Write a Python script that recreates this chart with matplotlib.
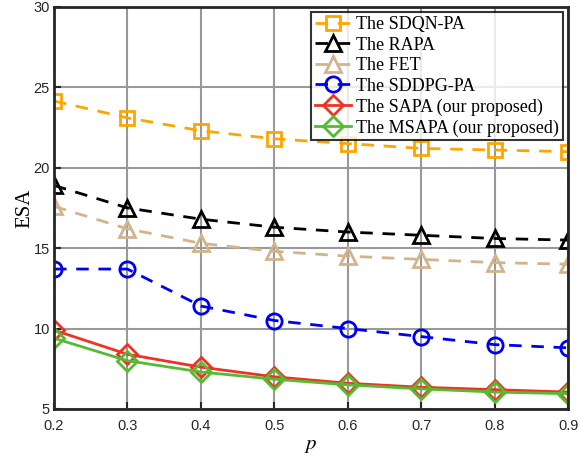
import matplotlib
matplotlib.use("Agg")
import matplotlib.pyplot as plt

p = [0.2, 0.3, 0.4, 0.5, 0.6, 0.7, 0.8, 0.9]
sdqn = [24.15, 23.1, 22.3, 21.8, 21.5, 21.2, 21.1, 21.0]
rapa = [18.9, 17.5, 16.8, 16.3, 16.0, 15.8, 15.6, 15.5]
fet = [17.6, 16.2, 15.3, 14.8, 14.5, 14.3, 14.1, 14.0]
sddpg = [13.7, 13.7, 11.4, 10.5, 10.0, 9.5, 9.0, 8.8]
sapa = [9.9, 8.4, 7.6, 7.0, 6.6, 6.35, 6.2, 6.05]
msapa = [9.4, 8.0, 7.3, 6.85, 6.5, 6.25, 6.05, 5.95]

labels = ["The SDQN-PA", "The RAPA", "The FET", "The SDDPG-PA",
          "The SAPA (our proposed)", "The MSAPA (our proposed)"]

plt.rcParams["mathtext.fontset"] = "stix"
fig = plt.figure(figsize=(5.87, 4.59), dpi=100)
ax = fig.add_axes([0.092, 0.109, 0.876, 0.876])

mew = 2
dash = (0, (4.5, 3.5))
ax.plot(p, sdqn, ls=dash, color="#FFA500", lw=2, marker="s", ms=10,
        mfc="none", mew=mew, label=labels[0])
ax.plot(p, rapa, ls=dash, color="black", lw=2, marker="^", ms=12,
        mfc="none", mew=mew, label=labels[1])
ax.plot(p, fet, ls=dash, color="#D2B48C", lw=2, marker="^", ms=12,
        mfc="none", mew=mew, label=labels[2])
ax.plot(p, sddpg, ls=dash, color="#0000F0", lw=2, marker="o", ms=11,
        mfc="none", mew=mew, label=labels[3])
ax.plot(p, sapa, ls="-", color="#EE3325", lw=2, marker="D", ms=10,
        mfc="none", mew=mew, label=labels[4])
ax.plot(p, msapa, ls="-", color="#55BB33", lw=2, marker="D", ms=10,
        mfc="none", mew=mew, label=labels[5])

ax.set_xlim(0.2, 0.9)
ax.set_ylim(5, 30)
ax.set_xticks(p)
ax.set_xticklabels([f"{v:g}" for v in p])
ax.set_yticks([5, 10, 15, 20, 25, 30])
ax.grid(True, color="#999999", lw=1.5)
ax.set_axisbelow(True)
for s in ax.spines.values():
    s.set_linewidth(2)
    s.set_color("#262626")
ax.tick_params(direction="in", length=5, width=1.5, labelsize=10.5,
               colors="#262626")
ax.tick_params(axis="x", pad=7)
ax.tick_params(axis="y", pad=3)
for lab in ax.get_xticklabels() + ax.get_yticklabels():
    lab.set_family("Liberation Sans")

ax.set_xlabel("$p$", fontsize=15, labelpad=2)
ax.set_ylabel("ESA", fontsize=15, family="Liberation Serif", labelpad=-1)

leg = ax.legend(loc="upper right", prop={"family": "Liberation Serif", "size": 13},
                frameon=True, fancybox=False, edgecolor="black",
                handlelength=2.0, handletextpad=0.3, labelspacing=0.2,
                borderpad=0.2, borderaxespad=0.3)
leg.get_frame().set_linewidth(1.5)

fig.savefig("out.png", dpi=100)
